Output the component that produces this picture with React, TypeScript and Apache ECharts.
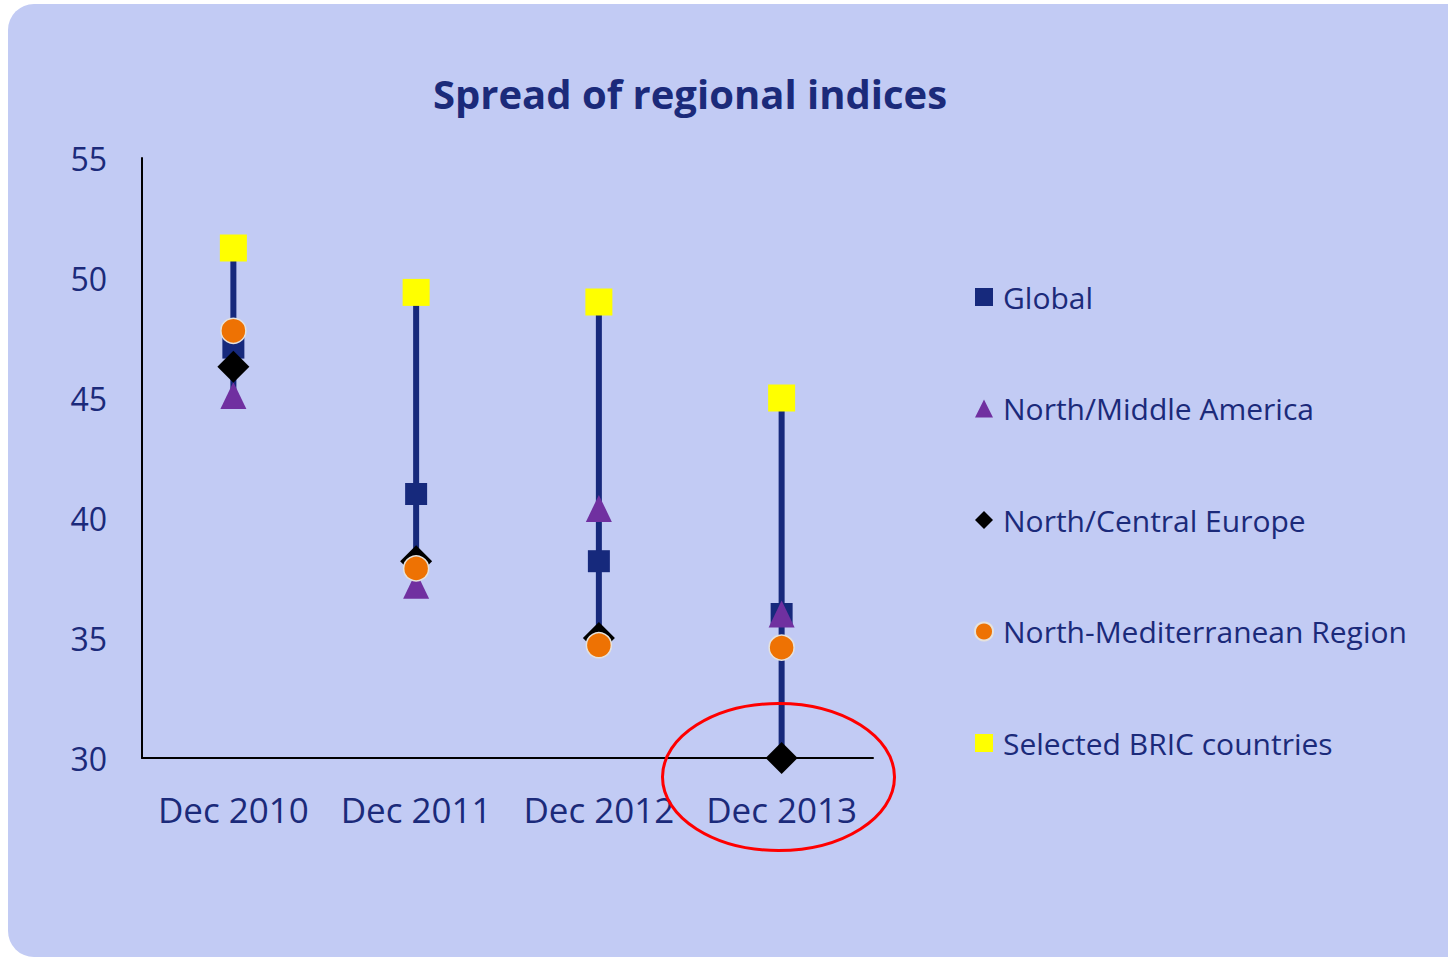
import React, { useEffect, useRef } from "react";
import * as echarts from "echarts";

const categories = ["Dec 2010", "Dec 2011", "Dec 2012", "Dec 2013"];
const globalVals = [47.1, 41.0, 38.2, 36.0];
const northMiddleAmerica = [45.1, 37.2, 40.4, 36.0];
const northCentralEurope = [46.3, 38.2, 35.0, 30.0];
const northMediterranean = [47.8, 37.9, 34.7, 34.6];
const bricVals = [51.25, 49.4, 49.0, 45.0];
const yTicks = { min: 30, max: 55, interval: 5 };

const NAVY = "#1B2A7A";
const FONT = "Open Sans";

export default function App() {
  const ref = useRef<HTMLDivElement>(null);
  useEffect(() => {
    if (!ref.current) return;
    const chart = echarts.init(ref.current, null, { renderer: "svg" });
    const all = [globalVals, northMiddleAmerica, northCentralEurope, northMediterranean, bricVals];
    const hiLo = categories.map((_, i) => {
      const vals = all.map((a) => a[i]);
      return [i, Math.min(...vals), Math.max(...vals)];
    });
    const scatter = (name: string, data: number[], symbol: string, size: any, color: string, extra: any = {}) => ({
      name,
      type: "scatter",
      data,
      symbol,
      symbolSize: size,
      itemStyle: { color, opacity: 1, ...extra },
      z: 3,
    });
    chart.setOption({
      animation: false,
      backgroundColor: "#ffffff",
      graphic: [
        {
          type: "rect",
          z: -10,
          silent: true,
          shape: { x: 8, y: 4, width: 1470, height: 953, r: 26 },
          style: { fill: "#C2CBF4" },
        },
        {
          type: "ellipse",
          z: 100,
          silent: true,
          shape: { cx: 778.5, cy: 777, rx: 116, ry: 73.5 },
          style: { fill: "none", stroke: "#FF0000", lineWidth: 3 },
        },
      ],
      title: {
        text: "Spread of regional indices",
        left: 685,
        top: 68,
        textAlign: "center",
        textStyle: { fontFamily: FONT, fontSize: 40, fontWeight: "bold", color: NAVY },
      },
      legend: {
        orient: "vertical",
        left: 974,
        top: 282,
        padding: 0,
        itemWidth: 18,
        itemHeight: 18,
        itemGap: 81.5,
        textStyle: { fontFamily: FONT, fontSize: 30, color: NAVY, lineHeight: 30, padding: [0, 0, 0, 5] },
        data: ["Global", "North/Middle America", "North/Central Europe", "North-Mediterranean Region", "Selected BRIC countries"],
      },
      grid: { left: 142, top: 158, width: 731, height: 600, containLabel: false },
      xAxis: {
        type: "category",
        data: categories,
        axisLine: { lineStyle: { color: "#000", width: 2 } },
        axisTick: { show: false },
        axisLabel: { fontFamily: FONT, fontSize: 35, color: NAVY, margin: 34, interval: 0 },
      },
      yAxis: {
        type: "value",
        min: yTicks.min,
        max: yTicks.max,
        interval: yTicks.interval,
        splitLine: { show: false },
        axisLine: { show: true, lineStyle: { color: "#000", width: 2 } },
        axisTick: { show: false },
        axisLabel: { fontFamily: FONT, fontSize: 32, color: NAVY, margin: 35 },
      },
      series: [
        {
          type: "custom",
          name: "hilo",
          data: hiLo,
          z: 1,
          silent: true,
          renderItem: (params: any, api: any) => {
            const p1 = api.coord([api.value(0), api.value(1)]);
            const p2 = api.coord([api.value(0), api.value(2)]);
            return {
              type: "line",
              shape: { x1: p1[0], y1: p1[1], x2: p2[0], y2: p2[1] },
              style: { stroke: "#16297C", lineWidth: 6 },
            };
          },
        },
        scatter("Global", globalVals, "rect", 22, "#16297C"),
        scatter("North/Middle America", northMiddleAmerica, "triangle", [26, 27], "#7030A0"),
        scatter("North/Central Europe", northCentralEurope, "diamond", 32, "#000000"),
        scatter("North-Mediterranean Region", northMediterranean, "circle", 25, "#EE7203", {
          borderColor: "#E6E2DC",
          borderWidth: 1.5,
        }),
        scatter("Selected BRIC countries", bricVals, "rect", 27, "#FFFF00"),
      ],
    });
    return () => chart.dispose();
  }, []);
  return (
    <div
      ref={ref}
      style={{ position: "fixed", left: 0, top: 0, width: 1448, height: 958 }}
    />
  );
}
